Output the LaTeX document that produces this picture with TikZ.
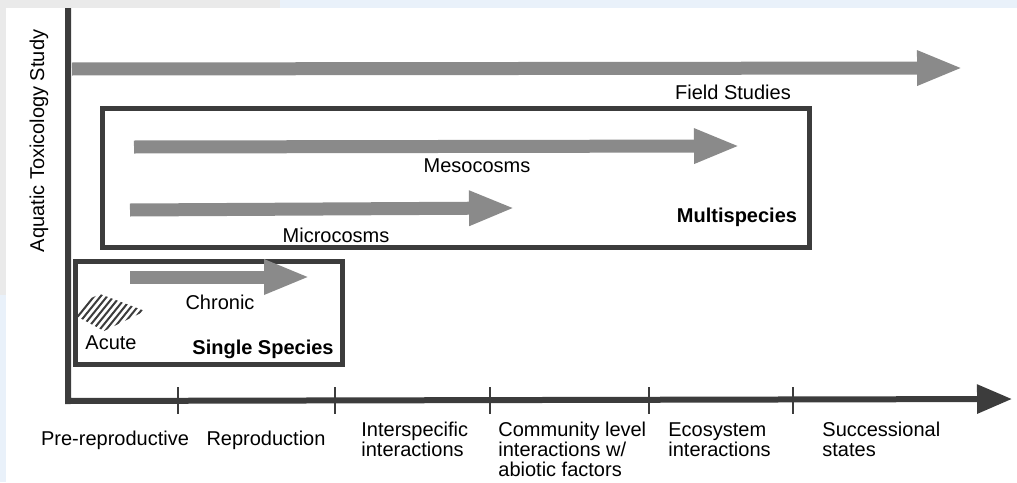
\documentclass[tikz,border=0pt]{standalone}
\usepackage{xcolor}
\usepackage{tikz}
\usepackage{fontspec}
\setmainfont{Liberation Sans}
\usetikzlibrary{positioning,calc,arrows.meta}

\definecolor{scanblue}{HTML}{E9F1FA}
\definecolor{scangray}{HTML}{EAEAEA}
\definecolor{halftone}{HTML}{8A8A8A}
\definecolor{ink}{HTML}{3C3C3C}

\begin{document}
\begin{tikzpicture}[x=0.5pt,y=-0.5pt,
    font=\fontsize{10}{10}\selectfont,
    fatarrow/.style={draw=halftone, line width=6.5pt, -{Triangle[length=23pt,width=16pt]}},
    boxline/.style={draw=ink, line width=2.5pt},
    axisline/.style={draw=ink, line width=3pt, line join=miter, -{Triangle[length=17.5pt,width=14pt]}},
    tickmark/.style={draw=ink, line width=0.8pt},
    lbl/.style={inner sep=0pt, anchor=base},
    boldlbl/.style={lbl, font=\fontsize{10}{10}\selectfont\bfseries},
    axislbl/.style={inner sep=0pt, anchor=north west, align=left}]
    \useasboundingbox (0,0) rectangle (1017,482);

    % Scan edges
    \fill[scangray] (0,0) rectangle (280,8);
    \fill[scanblue] (280,0) rectangle (1017,8);
    \fill[scangray] (0,8) rectangle (6,295);
    \fill[scanblue] (0,295) rectangle (6,482);

    % Axes
    \coordinate (ytop) at (68,8);
    \coordinate (origin) at (68,401);
    \coordinate (xend) at (1012,399);
    \draw[axisline] (ytop) -- (origin) -- (xend);
    \foreach \tx in {178,335,490,649,793} {
        \draw[tickmark] (\tx,387) -- (\tx,414);
    }
    \node[rotate=90] (ylabel) at (39,141) {Aquatic Toxicology Study};

    % Field studies
    \coordinate (field-start) at (72,69);
    \coordinate (field-end) at (963,68);
    \draw[fatarrow] (field-start) -- (field-end);
    \node[lbl] (field) at (733,99) {Field Studies};

    % Multispecies box
    \draw[boxline] (102,108) rectangle (809,247);
    \coordinate (meso-start) at (134,147);
    \coordinate (meso-end) at (740,146);
    \draw[fatarrow] (meso-start) -- (meso-end);
    \node[lbl] (meso) at (477,172) {Mesocosms};
    \coordinate (micro-start) at (130,210);
    \coordinate (micro-end) at (515,208);
    \draw[fatarrow] (micro-start) -- (micro-end);
    \node[lbl] (micro) at (336,242) {Microcosms};
    \node[boldlbl] (multi) at (737,222) {Multispecies};

    % Single species box
    \draw[boxline] (75,261) rectangle (342,364);
    \coordinate (chronic-start) at (130,277);
    \coordinate (chronic-end) at (310,277);
    \draw[fatarrow] (chronic-start) -- (chronic-end);
    \node[lbl] (chronic) at (220,309) {Chronic};
    \begin{scope}
        \clip (78,304) -- (100,294) -- (145,311) -- (104,331) -- (78,317) -- cycle;
        \foreach \i in {0,...,14} {
            \draw[ink, line width=1pt] ({62+\i*6.5},336) -- ++(34,-42);
        }
    \end{scope}
    \node[lbl] (acute) at (111,349) {Acute};
    \node[boldlbl] (single) at (263,354) {Single Species};

    % Axis labels
    \node[lbl] (prerep) at (115,445) {Pre-reproductive};
    \node[lbl] (repro) at (266,445) {Reproduction};
    \node[axislbl] (inter) at (361,422) {Interspecific\\interactions};
    \node[axislbl] (community) at (498,422) {Community level\\interactions w/\\abiotic factors};
    \node[axislbl] (ecosys) at (668,422) {Ecosystem\\interactions};
    \node[axislbl] (success) at (822,422) {Successional\\states};
\end{tikzpicture}
\end{document}
